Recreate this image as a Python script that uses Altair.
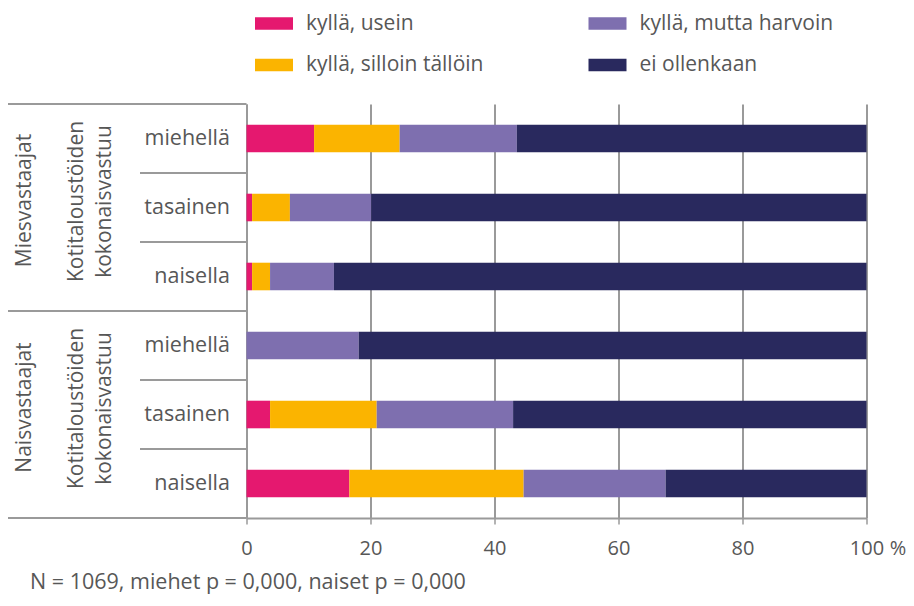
import altair as alt
import pandas as pd

# ---- data ----
groups = ["Miesvastaajat"] * 3 + ["Naisvastaajat"] * 3
vastuu = ["miehellä", "tasainen", "naisella"] * 2
categories = ["kyllä, usein", "kyllä, silloin tällöin", "kyllä, mutta harvoin", "ei ollenkaan"]
usein = [10.9, 0.9, 0.9, 0.0, 3.8, 16.6]
silloin = [13.8, 6.1, 2.9, 0.0, 17.2, 28.1]
harvoin = [18.9, 13.1, 10.3, 18.1, 22.0, 22.9]
ei = [56.4, 79.9, 85.9, 81.9, 57.0, 32.4]
colors = ["#E5186F", "#FBB400", "#7E6FAF", "#29295E"]
x_ticks = [0, 20, 40, 60, 80, 100]
sub_title = ["Kotitaloustöiden", "kokonaisvastuu"]
footnote = "N = 1069, miehet p = 0,000, naiset p = 0,000"

FONT = "Open Sans"
TXT = "#575757"
LINE = "#9a9a9a"

rows = [f"{g}|{v}" for g, v in zip(groups, vastuu)]
series = [usein, silloin, harvoin, ei]
records = []
for i, r in enumerate(rows):
    for k, (cat, vals) in enumerate(zip(categories, series)):
        records.append({"rivi": r, "vastaus": cat, "osuus": vals[i], "jarj": k})
df = pd.DataFrame(records)

y_scale = alt.Scale(domain=rows, paddingInner=0, paddingOuter=0)

bars = alt.Chart(df).mark_bar(height=alt.RelativeBandSize(0.4)).encode(
    x=alt.X(
        "osuus:Q",
        stack="zero",
        scale=alt.Scale(domain=[0, 100], nice=False),
        axis=alt.Axis(
            values=x_ticks,
            title="%",
            titleX=651,
            titleY=30.5,
            titleAngle=0,
            titleAlign="center",
            titleBaseline="middle",
            titleFont=FONT,
            titleFontSize=20,
            titleFontWeight="normal",
            titleColor=TXT,
            labelFont=FONT,
            labelFontSize=20,
            labelColor=TXT,
            labelPadding=14,
            labelFlush=False,
            tickSize=6,
            tickColor=LINE,
            tickWidth=1.5,
            domainColor=LINE,
            domainWidth=2,
            grid=True,
            gridColor=LINE,
            gridWidth=2,
        ),
    ),
    y=alt.Y(
        "rivi:N",
        sort=rows,
        scale=y_scale,
        axis=alt.Axis(
            title=None,
            labelExpr="split(datum.label, '|')[1]",
            ticks=False,
            tickSize=0,
            labelPadding=17,
            labelFont=FONT,
            labelFontSize=21.5,
            labelColor=TXT,
            domainColor=LINE,
            domainWidth=2,
        ),
    ),
    color=alt.Color(
        "vastaus:N",
        scale=alt.Scale(domain=categories, range=colors),
        legend=alt.Legend(
            title=None,
            orient="none",
            legendX=8.5,
            legendY=-99.5,
            columns=2,
            columnPadding=104.5,
            rowPadding=12.5,
            labelLimit=400,
            symbolType="M-1,-0.33H1V0.33H-1Z",
            symbolSize=1444,
            symbolStrokeWidth=0,
            symbolOpacity=1,
            labelFont=FONT,
            labelFontSize=21,
            labelColor=TXT,
            labelOffset=13,
        ),
    ),
    order=alt.Order("jarj:Q", sort="ascending"),
)

# separator lines at the left
long_lines = pd.DataFrame({"rivi": [rows[0], rows[3]]})
short_lines = pd.DataFrame({"rivi": [rows[1], rows[2], rows[4], rows[5]]})
bottom_line = pd.DataFrame({"rivi": [rows[5]]})

rule_long = alt.Chart(long_lines).mark_rule(color=LINE, strokeWidth=2).encode(
    y=alt.Y("rivi:N", bandPosition=0, sort=rows),
    x=alt.value(-239), x2=alt.value(0),
)
rule_short = alt.Chart(short_lines).mark_rule(color=LINE, strokeWidth=2).encode(
    y=alt.Y("rivi:N", bandPosition=0, sort=rows),
    x=alt.value(-106.5), x2=alt.value(0),
)
rule_bottom = alt.Chart(bottom_line).mark_rule(color=LINE, strokeWidth=2).encode(
    y=alt.Y("rivi:N", bandPosition=1, sort=rows),
    x=alt.value(-240), x2=alt.value(0),
)

# rotated group labels
grp = pd.DataFrame({"rivi": [rows[1], rows[4]], "ryhma": [groups[0], groups[3]],
                    "a": [sub_title[0]] * 2, "b": [sub_title[1]] * 2})

grp_text = alt.Chart(grp).mark_text(angle=270, align="center", baseline="middle",
                                    font=FONT, fontSize=21, color=TXT, yOffset=-7).encode(
    y=alt.Y("rivi:N", sort=rows), x=alt.value(-221.5), text="ryhma:N")
sub_a = alt.Chart(grp).mark_text(angle=270, align="center", baseline="middle",
                                 font=FONT, fontSize=21, color=TXT, yOffset=-6).encode(
    y=alt.Y("rivi:N", sort=rows), x=alt.value(-169.5), text="a:N")
sub_b = alt.Chart(grp).mark_text(angle=270, align="center", baseline="middle",
                                 font=FONT, fontSize=21, color=TXT, yOffset=-6).encode(
    y=alt.Y("rivi:N", sort=rows), x=alt.value(-141.5), text="b:N")

foot = alt.Chart(pd.DataFrame({"t": [footnote]})).mark_text(
    align="left", baseline="alphabetic", font=FONT, fontSize=21.5, color=TXT
).encode(x=alt.value(-216.5), y=alt.value(485), text="t:N")

chart = alt.layer(bars, rule_long, rule_short, rule_bottom, grp_text, sub_a, sub_b, foot).properties(
    width=620,
    height=414,
    autosize=alt.AutoSizeParams(type="none"),
    padding={"left": 238.5, "top": 96, "right": 39.5, "bottom": 79},
    background="white",
).configure_view(stroke=None)

chart.save("out.html", embed_options={"renderer": "svg", "actions": False})
